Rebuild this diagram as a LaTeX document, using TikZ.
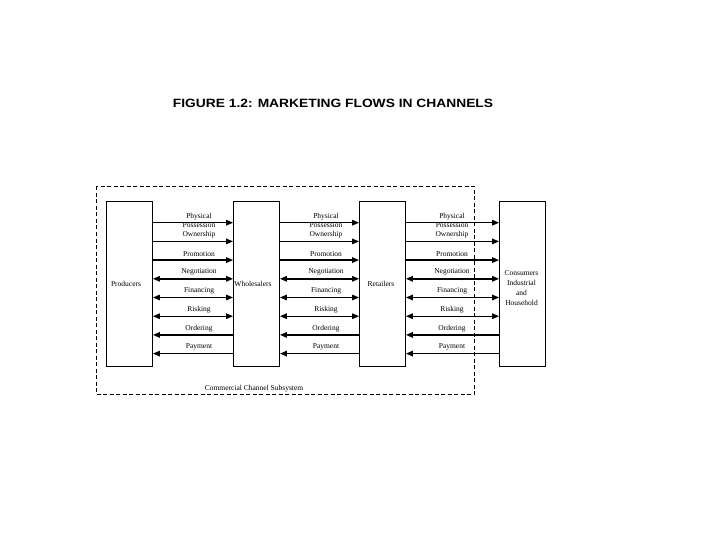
\documentclass[tikz,border=0pt]{standalone}
\usepackage{fontspec}
\setmainfont{Liberation Serif}
\newfontfamily\titlefont{Liberation Sans}[FakeStretch=1.15]
\usetikzlibrary{arrows.meta}
\tikzset{
  box/.style={draw, line width=0.8pt, minimum width=46pt, minimum height=165pt, inner sep=0pt},
  lbl/.style={font=\fontsize{7.5}{9.5}\selectfont, inner sep=0pt, align=center},
  flow/.style={line width=1.4pt},
  fwd/.style={flow, -{Triangle[length=7pt,width=5.5pt]}},
  bwd/.style={flow, {Triangle[length=7pt,width=5.5pt]}-},
  both/.style={flow, {Triangle[length=7pt,width=5.5pt]}-{Triangle[length=7pt,width=5.5pt]}},
  frame/.style={draw, line width=0.8pt, dash pattern=on 4pt off 2.5pt}
}
\begin{document}
\begin{tikzpicture}[x=1pt,y=-1pt]
\useasboundingbox (0,0) rectangle (720,540);

\node[font=\titlefont\bfseries\fontsize{12}{14}\selectfont, inner sep=0pt] (title) at (333,103) {FIGURE 1.2: MARKETING FLOWS IN CHANNELS};

\draw[frame] (96,186.5) rectangle (474.5,394);

\node[box] (P) at (129.5,283.5) {};
\node[box] (W) at (256.5,283.5) {};
\node[box] (R) at (382.5,283.5) {};
\node[box] (C) at (522.5,283.5) {};

\node[lbl] (Pt) at (126,283.5) {Producers};
\node[lbl] (Wt) at (253,284) {Wholesalers};
\node[lbl] (Rt) at (381,283.5) {Retailers};
\node[lbl, font=\fontsize{7.5}{10}\selectfont] (Ct) at (521.5,288) {Consumers\\Industrial\\and\\Household};

\node[lbl] (sub) at (254,388.3) {Commercial Channel Subsystem};

% flows
\foreach \a/\b/\lx [count=\g] in {P/W/199, W/R/326, R/C/452}{
  \foreach \yy/\st/\txt [count=\i] in {
     222.7/fwd/{},
     241.4/fwd/Ownership,
     260.1/fwd/Promotion,
     278.8/both/Negotiation,
     297.5/both/Financing,
     316.2/both/Risking,
     334.9/bwd/Ordering,
     353.6/bwd/Payment}{
    \draw[\st] (\a.east |- 0,\yy) -- (\b.west |- 0,\yy);
    \node[lbl] (L\g-\i) at (\lx,\yy-6.5) {\txt};
  }
  \node[lbl] (PP\g) at (\lx,220.5) {Physical\\Possession};
}
\end{tikzpicture}
\end{document}
